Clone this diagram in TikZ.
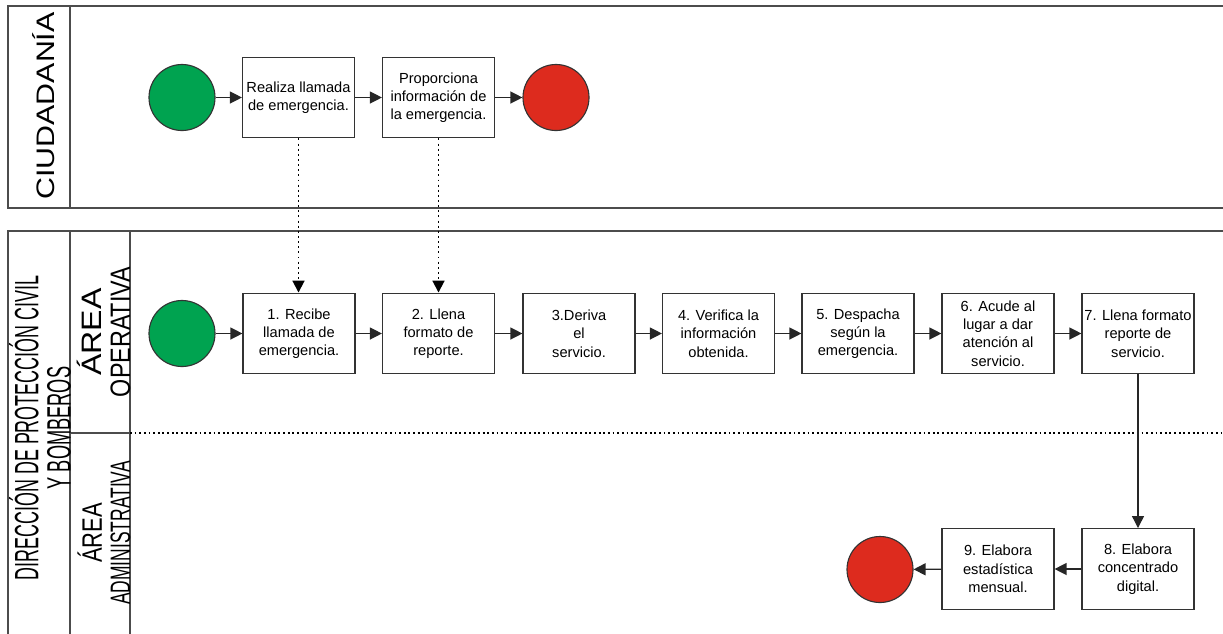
\documentclass[tikz,border=0pt]{standalone}
\usepackage{graphicx}
\usepackage{fontspec}
\setmainfont{Liberation Sans}
\usetikzlibrary{arrows.meta}

\definecolor{verde}{RGB}{0,163,80}
\definecolor{rojo}{RGB}{221,43,30}
\newcommand{\squeeze}[2]{\scalebox{#1}[1]{#2}}

\begin{document}
\begin{tikzpicture}[x=0.025cm,y=-0.025cm,>={Triangle[length=8.5pt,width=8.5pt]}]
    \tikzstyle{proc}=[draw=black!80,line width=0.8pt,fill=white,minimum width=2.8cm,minimum height=2.02cm,align=center,inner sep=1pt,font=\fontsize{10.4}{13}\selectfont]
    \tikzstyle{inicio}=[circle,draw=black!80,line width=0.8pt,fill=verde,minimum size=1.65cm,inner sep=0pt]
    \tikzstyle{fin}=[circle,draw=black!80,line width=0.8pt,fill=rojo,minimum size=1.65cm,inner sep=0pt]
    \tikzstyle{flow}=[->,line width=0.9pt,black!85]
    \tikzstyle{msg}=[->,line width=1.35pt,dash pattern=on 1.35pt off 2.3pt]
    \tikzstyle{lane}=[draw=black!70,line width=0.9pt]
    \tikzstyle{lanelabel}=[rotate=90,align=center,inner sep=0pt]
    \useasboundingbox (0,0) rectangle (1223,633);
    \clip (0,0) rectangle (1223,633);
    % pools and lanes
    \draw[lane] (8,6) rectangle (1260,208);
    \draw[lane] (70,6) -- (70,208);
    \draw[lane] (8,231) rectangle (1260,660);
    \draw[lane] (70,231) -- (70,660);
    \draw[lane] (130,231) -- (130,660);
    \draw[lane] (70,433) -- (130,433);
    \draw[line width=1.3pt,dash pattern=on 1.3pt off 2pt] (130,433) -- (1260,433);
    \node[lanelabel,font=\fontsize{18}{20}\selectfont] (l_ciud) at (44,106) {\squeeze{1.2}{CIUDADANÍA}};
    \node[lanelabel,font=\fontsize{24}{23}\selectfont] (l_dir) at (40,428) {\squeeze{0.53}{DIRECCIÓN DE PROTECCIÓN CIVIL}\\\squeeze{0.54}{Y BOMBEROS}};
    \node[lanelabel,font=\fontsize{20}{20}\selectfont] (l_oper) at (104,332) {\squeeze{1.14}{ÁREA}\\\squeeze{0.83}{OPERATIVA}};
    \node[lanelabel,font=\fontsize{20}{20}\selectfont] (l_admin) at (104,533) {\squeeze{0.78}{ÁREA}\\\squeeze{0.62}{ADMINISTRATIVA}};
    % ciudadania
    \node[inicio] (ini_1) at (182,97.5) {};
    \node[proc] (act_1) at (298.5,97.5) {Realiza llamada\\de emergencia.};
    \node[proc] (act_2) at (438.5,97.5) {Proporciona\\información de\\la emergencia.};
    \node[fin] (fin_1) at (556,97.5) {};
    % area operativa
    \node[inicio] (ini_2) at (182,333.5) {};
    \node[proc] (paso_1) at (299,333.5) {1. Recibe\\llamada de\\emergencia.};
    \node[proc] (paso_2) at (438.5,333.5) {2. Llena\\formato de\\reporte.};
    \node[proc] (paso_3) at (579,333.5) {3.Deriva\\el\\servicio.};
    \node[proc] (paso_4) at (718.5,333.5) {4. Verifica la\\información\\obtenida.};
    \node[proc] (paso_5) at (858,333.5) {5. Despacha\\según la\\emergencia.};
    \node[proc] (paso_6) at (998,333.5) {6. Acude al\\lugar a dar\\atención al\\servicio.};
    \node[proc] (paso_7) at (1138,333.5) {7. Llena formato\\reporte de\\servicio.};
    % area administrativa
    \node[proc] (paso_8) at (1138,569) {8. Elabora\\concentrado\\digital.};
    \node[proc] (paso_9) at (998,569) {9. Elabora\\estadística\\mensual.};
    \node[fin] (fin_2) at (880,569.5) {};
    % flujo
    \draw[flow] (ini_1) -- (act_1);
    \draw[flow] (act_1) -- (act_2);
    \draw[flow] (act_2) -- (fin_1);
    \draw[msg] (act_1) -- (act_1 |- paso_1.north);
    \draw[msg] (act_2) -- (act_2 |- paso_2.north);
    \draw[flow] (ini_2) -- (paso_1);
    \foreach \a/\b in {1/2,2/3,3/4,4/5,5/6,6/7}
        \draw[flow] (paso_\a) -- (paso_\b);
    \draw[flow] (paso_7) -- (paso_8);
    \draw[flow] (paso_8) -- (paso_9);
    \draw[flow] (paso_9) -- (fin_2);
\end{tikzpicture}
\end{document}
